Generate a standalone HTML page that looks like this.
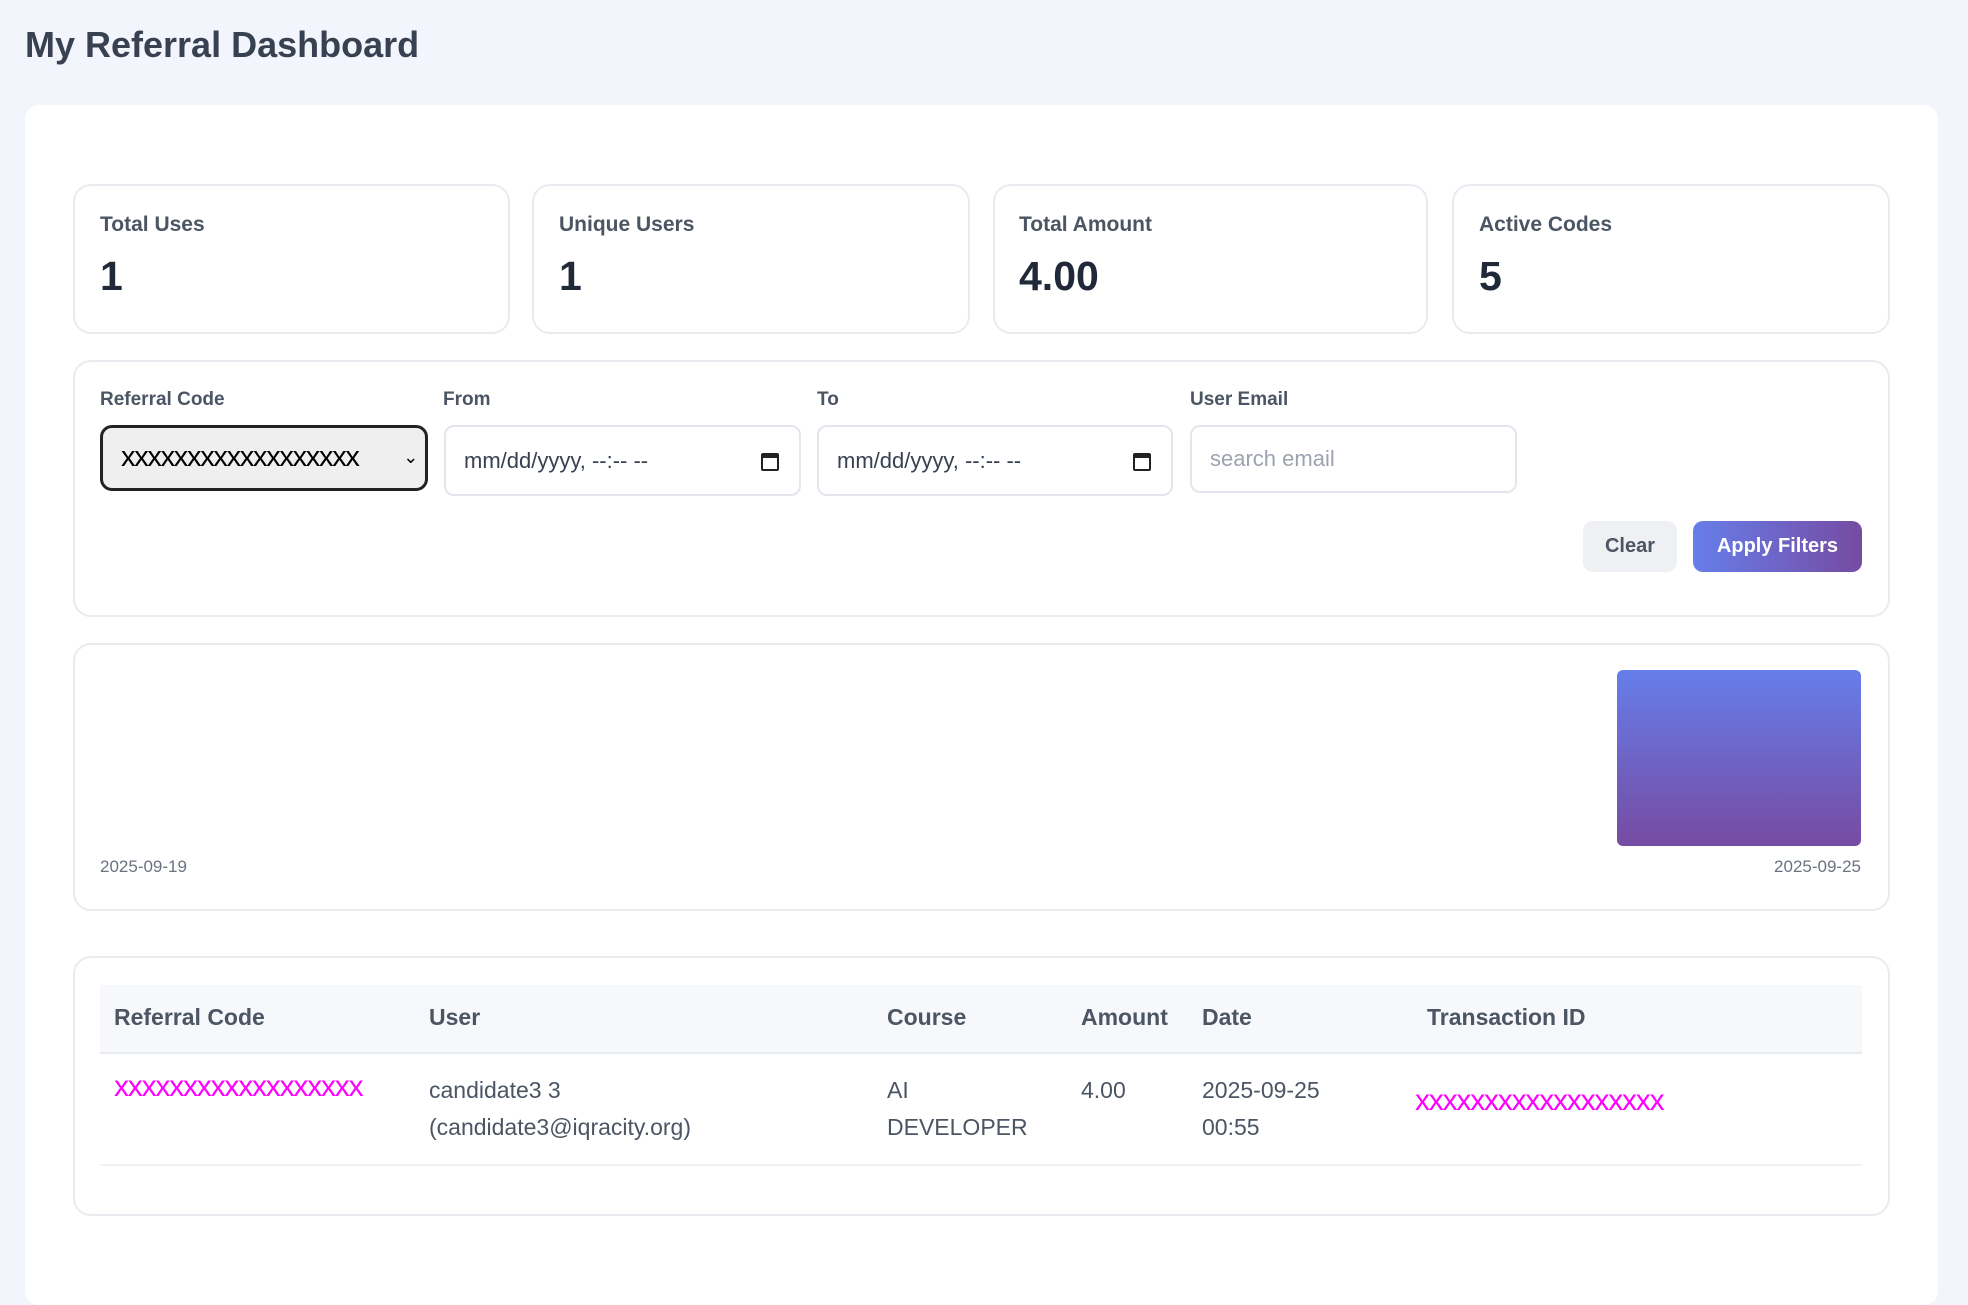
<!DOCTYPE html>
<html><head><meta charset="utf-8"><style>
*{box-sizing:border-box;margin:0;padding:0}
body{width:1968px;height:1276px;background:#f2f5fb;font-family:"Liberation Sans",sans-serif;color:#1f2937;position:relative;overflow:hidden}
.a{position:absolute}
.card{position:absolute;background:#fff;border:2px solid #e8ebf0;border-radius:18px}
.lbl{position:absolute;font-size:21px;font-weight:bold;color:#4b5563}
.val{position:absolute;font-size:41px;font-weight:bold;color:#1f2937}
.flbl{position:absolute;font-size:19px;font-weight:bold;color:#4b5563}
.inp{position:absolute;border:2px solid #e3e6ec;border-radius:10px;background:#fff;font-size:22px;color:#374151;padding-left:18px;display:flex;align-items:center}
.cal{position:absolute;right:20px;top:26px;width:18px;height:18px;border:2px solid #222;border-top-width:5px;border-radius:2px}
.th{position:absolute;top:1004px;font-size:23px;font-weight:bold;color:#4b5563}
.td{position:absolute;top:1072px;font-size:23px;color:#4b5563;line-height:37px}
.mag{color:#ff00ff;font-size:30px;letter-spacing:-1.2px}
</style></head><body>
<div class="a" style="left:25px;top:24px;font-size:36px;font-weight:bold;color:#374151">My Referral Dashboard</div>
<div class="a" style="left:25px;top:105px;width:1913px;height:1200px;background:#fff;border-radius:14px"></div>

<div class="card" style="left:73px;top:184px;width:437px;height:150px"></div>
<div class="card" style="left:532px;top:184px;width:438px;height:150px"></div>
<div class="card" style="left:993px;top:184px;width:435px;height:150px"></div>
<div class="card" style="left:1452px;top:184px;width:438px;height:150px"></div>
<div class="lbl" style="left:100px;top:213px">Total Uses</div>
<div class="lbl" style="left:559px;top:213px">Unique Users</div>
<div class="lbl" style="left:1019px;top:213px">Total Amount</div>
<div class="lbl" style="left:1479px;top:213px">Active Codes</div>
<div class="val" style="left:100px;top:253px">1</div>
<div class="val" style="left:559px;top:253px">1</div>
<div class="val" style="left:1019px;top:253px">4.00</div>
<div class="val" style="left:1479px;top:253px">5</div>

<div class="card" style="left:73px;top:360px;width:1817px;height:257px"></div>
<div class="flbl" style="left:100px;top:389px">Referral Code</div>
<div class="flbl" style="left:443px;top:389px">From</div>
<div class="flbl" style="left:817px;top:389px">To</div>
<div class="flbl" style="left:1190px;top:389px">User Email</div>
<div class="a" style="left:100px;top:425px;width:328px;height:66px;border:3px solid #222;border-radius:12px;background:#efefef;font-size:29px;color:#000;padding-left:18px;line-height:58px;letter-spacing:-1.3px">xxxxxxxxxxxxxxxxxx<span style="position:absolute;right:8px;font-size:18px">⌄</span></div>
<div class="inp" style="left:444px;top:425px;width:357px;height:71px">mm/dd/yyyy, --:-- --<div class="cal"></div></div>
<div class="inp" style="left:817px;top:425px;width:356px;height:71px">mm/dd/yyyy, --:-- --<div class="cal"></div></div>
<div class="inp" style="left:1190px;top:425px;width:327px;height:68px;color:#9ca3af">search email</div>
<div class="a" style="left:1583px;top:521px;width:94px;height:51px;background:#eef0f3;border-radius:10px;font-size:20px;font-weight:bold;color:#4b5563;text-align:center;line-height:51px">Clear</div>
<div class="a" style="left:1693px;top:521px;width:169px;height:51px;background:linear-gradient(90deg,#667eea,#764ba2);border-radius:10px;font-size:20px;font-weight:bold;color:#fff;text-align:center;line-height:51px">Apply Filters</div>

<div class="card" style="left:73px;top:643px;width:1817px;height:268px"></div>
<div class="a" style="left:1617px;top:670px;width:244px;height:176px;border-radius:6px;background:linear-gradient(180deg,#667eea,#764ba2)"></div>
<div class="a" style="left:100px;top:857px;font-size:17px;color:#6b7280">2025-09-19</div>
<div class="a" style="left:1761px;top:857px;width:100px;text-align:right;font-size:17px;color:#6b7280">2025-09-25</div>

<div class="card" style="left:73px;top:956px;width:1817px;height:260px"></div>
<div class="a" style="left:100px;top:985px;width:1762px;height:69px;background:#f6f8fb;border-bottom:2px solid #e8ebf0"></div>
<div class="a" style="left:100px;top:1164px;width:1762px;height:2px;background:#f0f2f5"></div>
<div class="th" style="left:114px">Referral Code</div>
<div class="th" style="left:429px">User</div>
<div class="th" style="left:887px">Course</div>
<div class="th" style="left:1081px">Amount</div>
<div class="th" style="left:1202px">Date</div>
<div class="th" style="left:1427px">Transaction ID</div>
<div class="td mag" style="left:114px;top:1068px">xxxxxxxxxxxxxxxxxx</div>
<div class="td" style="left:429px">candidate3 3<br>(candidate3@iqracity.org)</div>
<div class="td" style="left:887px">AI<br>DEVELOPER</div>
<div class="td" style="left:1081px">4.00</div>
<div class="td" style="left:1202px">2025-09-25<br>00:55</div>
<div class="td mag" style="left:1415px;top:1082px">xxxxxxxxxxxxxxxxxx</div>
</body></html>
